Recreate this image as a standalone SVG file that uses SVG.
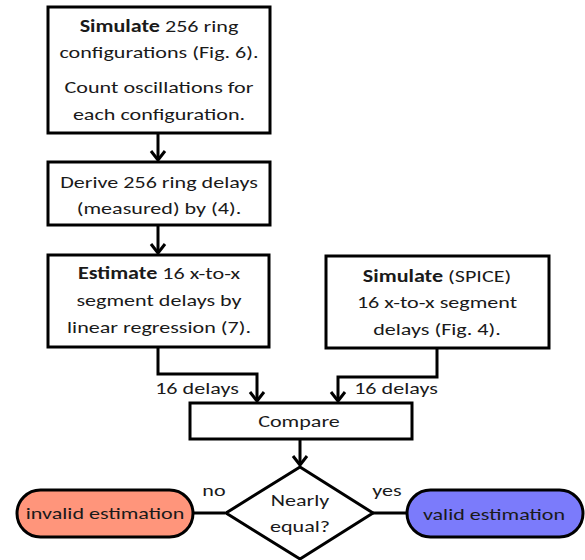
<svg xmlns="http://www.w3.org/2000/svg" width="585" height="560" viewBox="0 0 585 560">
<defs>
<marker id="arr" markerUnits="userSpaceOnUse" markerWidth="20" markerHeight="20" viewBox="-12 -10 14 20" refX="0" refY="0" orient="auto" overflow="visible">
<path d="M-9,-7 L0,0 L-9,7" fill="none" stroke="#000" stroke-width="3"/>
</marker>
</defs>
<style>
text{font-family:Carlito,Calibri,Lato,sans-serif;font-size:17px;fill:#1a1a1a;text-anchor:middle}
.box{fill:#fff;stroke:#000;stroke-width:3}
.c{fill:none;stroke:#000;stroke-width:3}
.b{font-weight:bold}
</style>
<rect width="585" height="560" fill="#fff"/>
<g id="connectors">
<path class="c" d="M158,133 V160" marker-end="url(#arr)"/>
<path class="c" d="M158,225 V253" marker-end="url(#arr)"/>
<path class="c" d="M158,347 V374 H257 V401" marker-end="url(#arr)"/>
<path class="c" d="M437,348 V377 H338 V401" marker-end="url(#arr)"/>
<path class="c" d="M300,439 V465" marker-end="url(#arr)"/>
<path class="c" d="M193,513 H225"/>
<path class="c" d="M373,513 H407"/>
<text transform="translate(197,394) scale(1.3,1)">16 delays</text>
<text transform="translate(396,394) scale(1.3,1)">16 delays</text>
<text transform="translate(214,496) scale(1.3,1)">no</text>
<text transform="translate(387,496) scale(1.3,1)">yes</text>
</g>
<g id="n1">
<rect class="box" x="48" y="7" width="222" height="126"/>
<text transform="translate(159,32) scale(1.3,1)"><tspan class="b">Simulate</tspan> 256 ring</text>
<text transform="translate(159,58) scale(1.3,1)">configurations (Fig. 6).</text>
<text transform="translate(159,93) scale(1.3,1)">Count oscillations for</text>
<text transform="translate(159,120) scale(1.3,1)">each configuration.</text>
</g>
<g id="n2">
<rect class="box" x="48" y="162" width="222" height="63"/>
<text transform="translate(159,188) scale(1.3,1)">Derive 256 ring delays</text>
<text transform="translate(159,214) scale(1.3,1)">(measured) by (4).</text>
</g>
<g id="n3">
<rect class="box" x="48" y="255" width="221" height="92"/>
<text transform="translate(159,279) scale(1.3,1)"><tspan class="b">Estimate</tspan> 16 x-to-x</text>
<text transform="translate(159,306) scale(1.3,1)">segment delays by</text>
<text transform="translate(159,333) scale(1.3,1)">linear regression (7).</text>
</g>
<g id="n4">
<rect class="box" x="326" y="256" width="223" height="92"/>
<text transform="translate(437,282) scale(1.3,1)"><tspan class="b">Simulate</tspan> (SPICE)</text>
<text transform="translate(437,308) scale(1.3,1)">16 x-to-x segment</text>
<text transform="translate(437,335) scale(1.3,1)">delays (Fig. 4).</text>
</g>
<g id="n5">
<rect class="box" x="190" y="403" width="222" height="36"/>
<text transform="translate(299,427) scale(1.3,1)">Compare</text>
</g>
<g id="n6">
<path class="box" d="M300,467 L373,513 L300,559 L226,513 Z"/>
<text transform="translate(300,506) scale(1.3,1)">Nearly</text>
<text transform="translate(300,532) scale(1.3,1)">equal?</text>
</g>
<g id="n7">
<rect x="17" y="490" width="176" height="47" rx="23.5" fill="#ff957b" stroke="#000" stroke-width="3"/>
<text transform="translate(105,519) scale(1.3,1)">invalid estimation</text>
</g>
<g id="n8">
<rect x="407" y="490" width="176" height="47" rx="23.5" fill="#7b7bfb" stroke="#000" stroke-width="3"/>
<text transform="translate(494,520) scale(1.3,1)">valid estimation</text>
</g>
</svg>
